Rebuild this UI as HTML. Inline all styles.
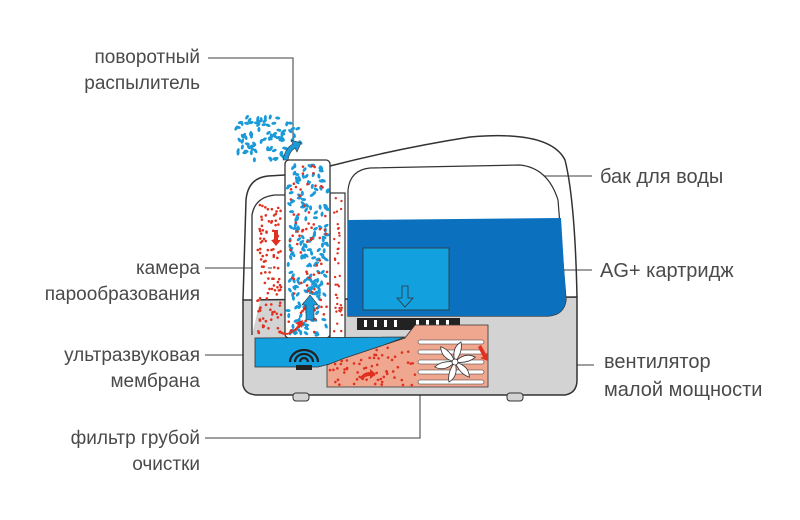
<!DOCTYPE html>
<html><head><meta charset="utf-8"><style>
html,body{margin:0;padding:0;background:#fff;width:800px;height:520px;overflow:hidden}
svg{display:block}
text{font-family:"Liberation Sans",sans-serif;font-size:19px;fill:#4a4a4a}
.r{font-size:20px}
</style></head><body>
<svg id="s" width="800" height="520" viewBox="0 0 800 520">
<g stroke="#666" stroke-width="1.3" fill="none">
<polyline points="208,58 293,58 293,145"/>
<line x1="205" y1="268" x2="272" y2="268"/>
<line x1="205" y1="355" x2="270" y2="355"/>
<polyline points="205,438 420,438 420,395"/>
<line x1="518" y1="176" x2="592" y2="176"/>
<line x1="423" y1="270" x2="592" y2="270"/>
<line x1="456" y1="365" x2="594" y2="365"/>
</g>
<g text-anchor="end">
<text x="200" y="63">поворотный</text>
<text x="200" y="89">распылитель</text>
<text x="200" y="274">камера</text>
<text x="200" y="300">парообразования</text>
<text x="200" y="361">ультразвуковая</text>
<text x="200" y="387">мембрана</text>
<text x="200" y="444">фильтр грубой</text>
<text x="200" y="470">очистки</text>
</g>
<text class="r" x="600" y="183">бак для воды</text>
<text class="r" x="600" y="277">AG+ картридж</text>
<text class="r" x="604" y="368">вентилятор</text>
<text class="r" x="604" y="396">малой мощности</text>
<!-- base -->
<path d="M243,300 L243,385 Q245,395 258,395 L565,395 Q577,393 577,380 L577,297 Z" fill="#d3d3d3" stroke="#333" stroke-width="1.5"/>
<rect x="293" y="393" width="16" height="8" rx="3" fill="#d3d3d3" stroke="#333"/>
<rect x="507" y="393" width="16" height="8" rx="3" fill="#d3d3d3" stroke="#333"/>
<!-- outer shell -->
<path d="M243,300 L246,200 Q248,178 268,176 L285,175 M330,166 Q400,148 470,137 Q550,130 565,160 Q575,200 577,297" fill="none" stroke="#333" stroke-width="1.5"/>
<path d="M252,335 L252,215 Q255,197 275,195 L285,195" fill="#fff" stroke="#333" stroke-width="1.3"/>
<!-- tank -->
<path d="M348,190 Q350,170 370,168 L520,165 Q548,168 558,200 L566,300 Q564,315 548,316 L348,316 Z" fill="#fff" stroke="#333" stroke-width="1.2"/>
<path d="M348,220 L561,218 L566,300 Q564,315 548,316 L348,316 Z" fill="#0b71bf"/>
<rect x="363" y="248" width="86" height="62" fill="#12a0df" stroke="#333" stroke-width="0.8"/>
<path d="M402,286 h6 v12 h5 l-8,9 l-8,-9 h5z" fill="#12a0df" stroke="#333" stroke-width="0.8"/>
<g fill="#222"><rect x="357" y="318" width="103" height="12"/></g>
<g fill="#fff"><rect x="364" y="320" width="3" height="7"/><rect x="374" y="320" width="3" height="7"/><rect x="384" y="320" width="3" height="7"/><rect x="394" y="320" width="3" height="7"/><rect x="416" y="320" width="3" height="7"/><rect x="426" y="320" width="3" height="7"/><rect x="436" y="320" width="3" height="7"/><rect x="446" y="320" width="3" height="7"/></g>
<!-- chamber walls -->
<rect x="330" y="193" width="15" height="145" fill="#fff" stroke="#333" stroke-width="1.2"/>
<rect x="285" y="160" width="45" height="178" rx="4" fill="#fff" stroke="#333" stroke-width="1.3"/>
<!-- pool -->
<path d="M255,338 L405,337 L345,360 L318,367 L255,367 Z" fill="#12a0df" stroke="#333" stroke-width="0.8"/>
<g fill="none" stroke="#222" stroke-width="2.2"><path d="M290,362 a14,12 0 0 1 28,0"/><path d="M295,362 a9,8 0 0 1 18,0"/><path d="M300,362 a4,4 0 0 1 8,0"/></g>
<rect x="296" y="365" width="16" height="5" fill="#222"/>
<!-- filter -->
<path d="M345,358 L405,338 L415,325 L488,325 L488,387 L327,387 L327,365 Z" fill="#f0a790" stroke="#333" stroke-width="0.8"/>
<g fill="#fff" stroke="#333" stroke-width="0.6"><rect x="418" y="340" width="66" height="4" rx="2"/><rect x="418" y="350" width="66" height="4" rx="2"/><rect x="418" y="360" width="66" height="4" rx="2"/><rect x="418" y="370" width="66" height="4" rx="2"/><rect x="418" y="380" width="66" height="4" rx="2"/></g>
<g id="fan" fill="#fff" stroke="#333" stroke-width="0.8"></g>
<g id="dots"></g>
<!-- arrows -->
<g fill="#1a9ad8" stroke="#333" stroke-width="0.6">
<path d="M306,320 v-15 h-4 l8,-10 l8,10 h-4 v15z"/>
<path d="M283,160 q2,-12 10,-16 l-2,-4 l10,3 l-4,9 l-2,-4 q-6,4 -7,12z"/>
</g>
<g fill="#e03020">
<path d="M274,230 h4 v10 h3 l-5,6 l-5,-6 h3z"/>
<path d="M280,330 q8,8 18,-5 l-3,-2 l8,-3 l-1,8 l-2,-2 q-12,14 -22,6z"/>
<path d="M478,347 l3,-2 l5,9 l2,-2 l0,9 l-8,-3 l3,-1z"/>
<path d="M360,378 q3,-6 10,-6 v-3 l6,5 l-6,5 v-3 q-5,0 -8,4z"/>
</g>
</svg>
<script>
var ns="http://www.w3.org/2000/svg",d=document.getElementById("dots"),s=1;
function r(){s=(s*16807)%2147483647;return s/2147483647}
function el(cx,cy,rx,ry,c,rot){var e=document.createElementNS(ns,"ellipse");e.setAttribute("cx",cx);e.setAttribute("cy",cy);e.setAttribute("rx",rx);e.setAttribute("ry",ry);e.setAttribute("fill",c);e.setAttribute("transform","rotate("+rot+" "+cx+" "+cy+")");d.appendChild(e)}
var i,x,y;
for(i=0;i<190;i++){x=288+r()*40;y=165+r()*170;el(x,y,2.6,1.5,"#1a9ad8",r()*180)}
for(i=0;i<90;i++){x=236+r()*66;y=116+r()*46;if(x>284&&y>150)continue;el(x,y,2.6,1.5,"#1a9ad8",r()*180)}
for(i=0;i<80;i++){el(288+r()*40,165+r()*170,1.3,1.3,"#e03020",0)}
for(i=0;i<110;i++){el(257+r()*25,205+r()*128,1.3,1.3,"#e03020",0)}
for(i=0;i<40;i++){el(334+r()*8,198+r()*135,1.2,1.2,"#e03020",0)}
for(i=0;i<70;i++){x=330+r()*85;y=345+r()*40;if(y<365-(x-330)*0.35)continue;el(x,y,1.3,1.3,"#e03020",0)}
var f=document.getElementById("fan");
for(i=0;i<6;i++){var p=document.createElementNS(ns,"path");p.setAttribute("d","M455,362 q-4,-14 6,-20 q2,10 -6,20z");p.setAttribute("transform","rotate("+(i*60)+" 455 362)");f.appendChild(p)}
var c=document.createElementNS(ns,"circle");c.setAttribute("cx",455);c.setAttribute("cy",362);c.setAttribute("r",3);f.appendChild(c);
</script>
</body></html>
